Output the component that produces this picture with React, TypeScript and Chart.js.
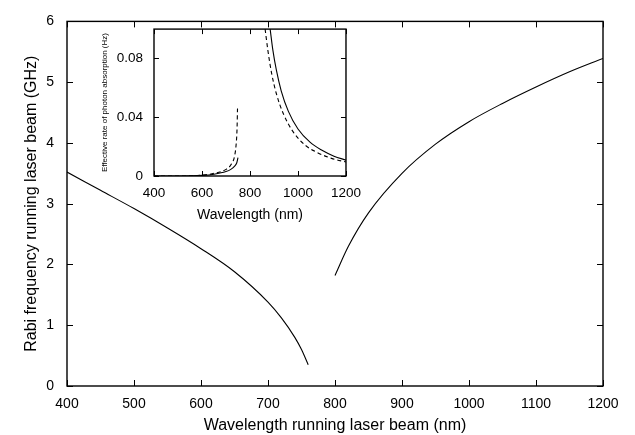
import React, { useEffect, useRef } from "react";
import { Chart, registerables } from "chart.js";

Chart.register(...registerables);

// ---- Main chart data (Rabi frequency, GHz) ----
const mainXTicks = [400, 500, 600, 700, 800, 900, 1000, 1100, 1200];
const mainYTicks = [0, 1, 2, 3, 4, 5, 6];
const leftBranchX = [400, 450, 500, 550, 600, 650, 700, 720, 740, 750, 760];
const leftBranchY = [3.52, 3.22, 2.92, 2.6, 2.26, 1.88, 1.38, 1.12, 0.8, 0.6, 0.35];
const rightBranchX = [800, 820, 850, 900, 950, 1000, 1050, 1100, 1150, 1200];
const rightBranchY = [1.82, 2.3, 2.85, 3.5, 3.98, 4.35, 4.65, 4.92, 5.17, 5.39];

// ---- Inset data (effective rate of photon absorption, Hz) ----
const insetXTicks = [400, 600, 800, 1000, 1200];
const insetYTicks = [0, 0.04, 0.08];
const insetYTickLabels = ["0", "0.04", "0.08"];
const solidLeftX = [400, 500, 600, 650, 700, 720, 735, 745, 750];
const solidLeftY = [0, 0, 0.0004, 0.0012, 0.003, 0.0045, 0.0065, 0.009, 0.0125];
const dashedLeftX = [400, 500, 600, 650, 700, 720, 735, 742, 746, 748];
const dashedLeftY = [0, 0, 0.0006, 0.0018, 0.0045, 0.0075, 0.013, 0.021, 0.032, 0.046];
const solidRightX = [884, 895, 910, 930, 960, 1000, 1050, 1100, 1150, 1200];
const solidRightY = [0.1, 0.086, 0.072, 0.058, 0.044, 0.032, 0.023, 0.0175, 0.0135, 0.0108];
const dashedRightX = [863, 875, 890, 910, 940, 980, 1030, 1080, 1140, 1200];
const dashedRightY = [0.1, 0.085, 0.07, 0.056, 0.042, 0.03, 0.021, 0.016, 0.012, 0.0095];

const FONT = "'Liberation Sans', Arial, Helvetica, sans-serif";

const pts = (xs: number[], ys: number[]) => xs.map((x, i) => ({ x, y: ys[i] }));
const plain = (v: any) => String(v);

const boxTicks = {
  id: "boxTicks",
  afterDatasetsDraw(chart: any, _args: any, opts: any) {
    const { ctx, chartArea: a, scales } = chart;
    const len = opts.len ?? 6;
    ctx.save();
    ctx.strokeStyle = "#000";
    ctx.lineWidth = 1;
    const line = (x1: number, y1: number, x2: number, y2: number) => {
      ctx.beginPath();
      ctx.moveTo(x1, y1);
      ctx.lineTo(x2, y2);
      ctx.stroke();
    };
    scales.x.ticks.forEach((t: any) => {
      const px = Math.round(scales.x.getPixelForValue(t.value)) + 0.5;
      line(px, a.bottom, px, a.bottom - len);
      line(px, a.top, px, a.top + len);
    });
    scales.y.ticks.forEach((t: any) => {
      const py = Math.round(scales.y.getPixelForValue(t.value)) + 0.5;
      line(a.left, py, a.left + len, py);
      line(a.right, py, a.right - len, py);
    });
    ctx.lineWidth = 1.4;
    ctx.strokeRect(a.left, a.top, a.right - a.left, a.bottom - a.top);
    ctx.restore();
  },
};

function MainChart() {
  const ref = useRef<HTMLCanvasElement>(null);
  useEffect(() => {
    const chart = new Chart(ref.current!, {
      type: "scatter",
      data: {
        datasets: [
          {
            data: pts(leftBranchX, leftBranchY),
            showLine: true,
            borderColor: "#000",
            borderWidth: 1.1,
            pointRadius: 0,
            cubicInterpolationMode: "monotone",
          },
          {
            data: pts(rightBranchX, rightBranchY),
            showLine: true,
            borderColor: "#000",
            borderWidth: 1.1,
            pointRadius: 0,
            cubicInterpolationMode: "monotone",
          },
        ],
      },
      options: {
        animation: false,
        responsive: false,
        layout: { padding: { top: 15, right: 32, left: 0, bottom: 0 } },
        plugins: { legend: { display: false }, tooltip: { enabled: false }, boxTicks: { len: 6 } } as any,
        scales: {
          x: {
            type: "linear",
            min: 400,
            max: 1200,
            afterBuildTicks: (s: any) => {
              s.ticks = mainXTicks.map((v) => ({ value: v }));
            },
            afterFit: (s: any) => {
              s.height = 49;
            },
            grid: { display: false, drawTicks: false },
            border: { display: false },
            ticks: { color: "#000", font: { family: FONT, size: 14 }, padding: 10, maxRotation: 0, autoSkip: false, callback: plain },
            title: {
              display: true,
              text: "Wavelength running laser beam (nm)",
              color: "#000",
              font: { family: FONT, size: 16 },
              padding: { top: 0, bottom: 0 },
            },
          },
          y: {
            type: "linear",
            min: 0,
            max: 6,
            afterBuildTicks: (s: any) => {
              s.ticks = mainYTicks.map((v) => ({ value: v }));
            },
            afterFit: (s: any) => {
              s.width = 67;
            },
            grid: { display: false, drawTicks: false },
            border: { display: false },
            ticks: { color: "#000", font: { family: FONT, size: 14 }, padding: 13, callback: plain },
            title: {
              display: true,
              text: "Rabi frequency running laser beam (GHz)",
              color: "#000",
              font: { family: FONT, size: 16 },
              padding: { top: 22, bottom: 0 },
            },
          },
        },
      },
      plugins: [boxTicks],
    } as any);
    return () => chart.destroy();
  }, []);
  return <canvas ref={ref} width={635} height={435} style={{ position: "absolute", left: 0, top: 0 }} />;
}

function InsetChart() {
  const ref = useRef<HTMLCanvasElement>(null);
  useEffect(() => {
    const common = { showLine: true, borderColor: "#000", borderWidth: 1.1, pointRadius: 0, cubicInterpolationMode: "monotone" };
    const chart = new Chart(ref.current!, {
      type: "scatter",
      data: {
        datasets: [
          { ...common, data: pts(solidLeftX, solidLeftY) },
          { ...common, data: pts(dashedLeftX, dashedLeftY), borderDash: [4, 3] },
          { ...common, data: pts(solidRightX, solidRightY) },
          { ...common, data: pts(dashedRightX, dashedRightY), borderDash: [4, 3] },
        ],
      },
      options: {
        animation: false,
        responsive: false,
        layout: { padding: { top: 14, right: 15, left: 0, bottom: 0 } },
        plugins: { legend: { display: false }, tooltip: { enabled: false }, boxTicks: { len: 5 } } as any,
        scales: {
          x: {
            type: "linear",
            min: 400,
            max: 1200,
            afterBuildTicks: (s: any) => {
              s.ticks = insetXTicks.map((v) => ({ value: v }));
            },
            afterFit: (s: any) => {
              s.height = 49;
            },
            grid: { display: false, drawTicks: false },
            border: { display: false },
            ticks: { color: "#000", font: { family: FONT, size: 13.5 }, padding: 9, maxRotation: 0, autoSkip: false, callback: plain },
            title: {
              display: true,
              text: "Wavelength (nm)",
              color: "#000",
              font: { family: FONT, size: 14 },
              padding: { top: 0, bottom: 1.5 },
            },
          },
          y: {
            type: "linear",
            min: 0,
            max: 0.1,
            afterBuildTicks: (s: any) => {
              s.ticks = insetYTicks.map((v) => ({ value: v }));
            },
            afterFit: (s: any) => {
              s.width = 74;
            },
            grid: { display: false, drawTicks: false },
            border: { display: false },
            ticks: {
              color: "#000",
              font: { family: FONT, size: 13.5 },
              padding: 11,
              callback: (v: any) => {
                const i = insetYTicks.indexOf(v);
                return i >= 0 ? insetYTickLabels[i] : "";
              },
            },
            title: {
              display: true,
              text: "Effective rate of photon absorption (Hz)",
              color: "#000",
              font: { family: FONT, size: 8 },
              padding: { top: 20, bottom: 0 },
            },
          },
        },
      },
      plugins: [boxTicks],
    } as any);
    return () => chart.destroy();
  }, []);
  return <canvas ref={ref} width={290} height={215} style={{ position: "absolute", left: 80, top: 10 }} />;
}

export default function App() {
  return (
    <div style={{ position: "fixed", left: 0, top: 0, width: 635, height: 435, background: "#fff", overflow: "hidden" }}>
      <MainChart />
      <InsetChart />
    </div>
  );
}
